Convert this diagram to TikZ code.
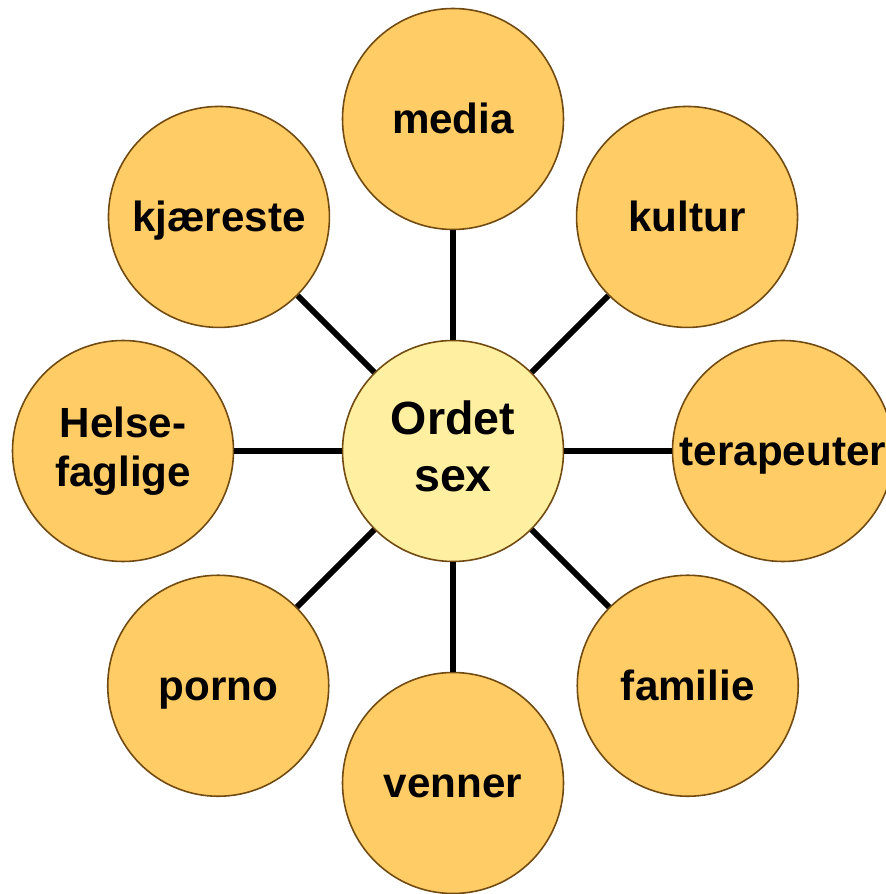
\documentclass[tikz,border=0pt]{standalone}
\usepackage{fontspec}
\setmainfont{Liberation Sans}
\definecolor{petal}{HTML}{FFCC66}
\definecolor{heart}{HTML}{FFEFA0}
\definecolor{rim}{HTML}{704A10}
\newcommand{\petalstrut}{\rule[-0.212em]{0pt}{1.117em}}
\tikzset{
	petal/.style={circle,draw=rim,line width=0.9pt,fill=petal,minimum size=4.42cm,inner sep=0pt,align=center,
		font=\fontsize{24}{27.6}\selectfont\bfseries,
		execute at begin node=\petalstrut,execute at end node=\petalstrut},
	heart/.style={petal,fill=heart,font=\fontsize{26.5}{32.4}\selectfont\bfseries},
	spoke/.style={line width=3.4pt,black}
}
\begin{document}
\begin{tikzpicture}
	\useasboundingbox (-9.06,-8.86) rectangle (8.64,9.02);
	\coordinate (Origin) at (0,0);

	\node[heart] (sex) at (Origin) {Ordet\\sex};
	\node[petal] (media) at (90:6.64) {media};
	\node[petal] (kultur) at (45:6.62) {kultur};
	\node[petal] (terapeuter) at (0:6.6) {terapeuter};
	\node[petal] (familie) at (-45:6.64) {familie};
	\node[petal] (venner) at (-90:6.64) {venner};
	\node[petal] (porno) at (-135:6.64) {porno};
	\node[petal] (helse) at (180:6.6) {Helse-\\faglige};
	\node[petal] (kjaereste) at (135:6.62) {kjæreste};

	\draw [spoke] (sex) -- (media);
	\draw [spoke] (sex) -- (kultur);
	\draw [spoke] (sex) -- (terapeuter);
	\draw [spoke] (sex) -- (familie);
	\draw [spoke] (sex) -- (venner);
	\draw [spoke] (sex) -- (porno);
	\draw [spoke] (sex) -- (helse);
	\draw [spoke] (sex) -- (kjaereste);
\end{tikzpicture}
\end{document}
